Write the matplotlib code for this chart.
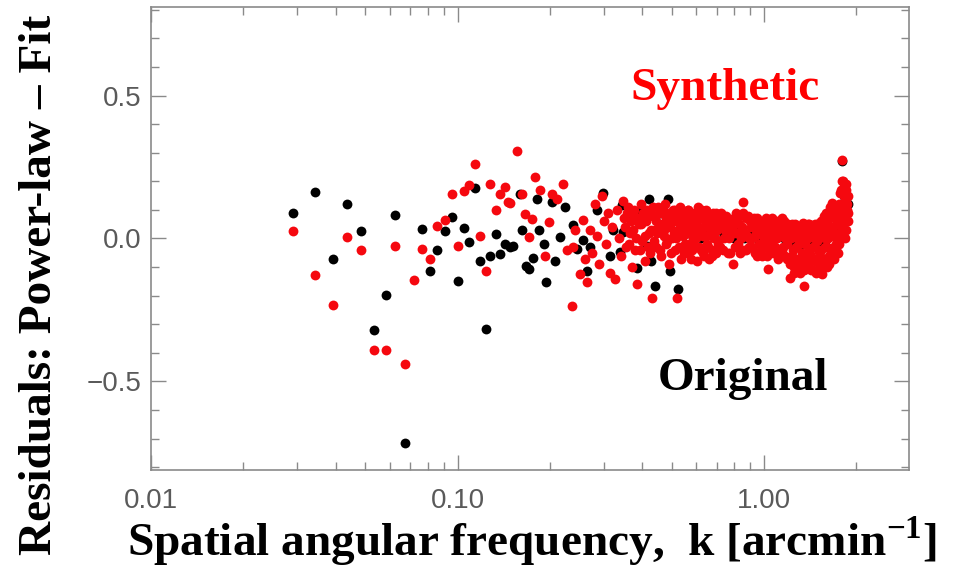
import matplotlib
matplotlib.use("Agg")
import matplotlib.pyplot as plt
from matplotlib.ticker import FixedLocator, LogLocator, NullFormatter, MultipleLocator

# ---- residuals of the power-law fit, sparse low-k part ----
k_orig_low = [0.0291, 0.0343, 0.0392, 0.0437, 0.0485, 0.0534, 0.0582, 0.0625, 0.0674,
              0.0766, 0.0813, 0.0858, 0.0911, 0.0957, 0.1002, 0.1052, 0.1093, 0.1143,
              0.1184, 0.1236, 0.1276, 0.1332, 0.1376, 0.1429, 0.1484, 0.1521, 0.1599,
              0.1620, 0.1673, 0.1715, 0.1759, 0.1813, 0.1849, 0.1915, 0.1944, 0.2029,
              0.2080, 0.2159, 0.2243, 0.2387, 0.2449, 0.2573, 0.2640, 0.2705, 0.2845,
              0.2983, 0.3146, 0.3216, 0.3389, 0.3440, 0.3470, 0.3683, 0.3852, 0.3911,
              0.4153, 0.4216, 0.4260, 0.4410, 0.4579, 0.4862, 0.4935, 0.5242]
r_orig_low = [0.090, 0.162, -0.073, 0.122, 0.026, -0.319, -0.196, 0.081, -0.717,
              0.033, -0.115, -0.042, 0.026, 0.075, -0.150, 0.035, -0.013, 0.178,
              -0.080, -0.316, -0.062, 0.014, -0.054, -0.018, -0.030, -0.025, 0.157,
              0.028, -0.095, -0.106, -0.068, 0.139, 0.030, -0.019, -0.153, 0.127,
              -0.077, 0.005, 0.110, 0.046, -0.036, -0.007, -0.112, -0.030, 0.098,
              0.158, -0.060, 0.028, -0.049, 0.116, 0.021, 0.063, -0.102, 0.091,
              -0.025, 0.137, -0.077, -0.165, 0.088, 0.137, -0.112, -0.175]

k_syn_low = [0.0291, 0.0343, 0.0392, 0.0437, 0.0485, 0.0534, 0.0582, 0.0625, 0.0674,
             0.0718, 0.0766, 0.0813, 0.0858, 0.0911, 0.0957, 0.1002, 0.1052, 0.1093,
             0.1143, 0.1184, 0.1236, 0.1276, 0.1332, 0.1376, 0.1429, 0.1465, 0.1484,
             0.1561, 0.1620, 0.1661, 0.1703, 0.1746, 0.1790, 0.1858, 0.1930, 0.1979,
             0.2029, 0.2107, 0.2214, 0.2272, 0.2359, 0.2387, 0.2418, 0.2510, 0.2573,
             0.2600, 0.2640]
r_syn_low = [0.026, -0.126, -0.231, 0.005, -0.042, -0.389, -0.389, -0.025, -0.440,
             -0.144, -0.036, -0.071, 0.042, 0.063, 0.157, -0.028, 0.166, 0.186,
             0.259, 0.008, -0.115, 0.189, 0.098, 0.157, 0.180, 0.127, 0.124,
             0.306, 0.157, 0.084, 0.005, 0.069, 0.215, 0.168, -0.060, 0.057,
             0.157, 0.139, 0.192, -0.042, -0.235, -0.030, 0.028, -0.124, 0.063,
             -0.071, -0.153]

# ---- dense high-k part (synthetic) ----
k_band_a = [0.270, 0.275, 0.280, 0.285, 0.290, 0.295, 0.300, 0.305, 0.310, 0.315,
            0.320, 0.325, 0.330, 0.335, 0.340, 0.345, 0.350, 0.355, 0.360, 0.365,
            0.370, 0.375, 0.380, 0.385, 0.390, 0.395, 0.400, 0.405, 0.410, 0.415,
            0.420, 0.425, 0.430, 0.435, 0.440, 0.445, 0.450, 0.455, 0.460, 0.465,
            0.470, 0.475, 0.480, 0.485, 0.490, 0.495, 0.500, 0.505, 0.510, 0.515,
            0.520, 0.525, 0.530, 0.535, 0.540, 0.545, 0.550, 0.555, 0.560, 0.565,
            0.570, 0.575, 0.580, 0.585, 0.590, 0.595, 0.600, 0.605, 0.610, 0.615,
            0.620, 0.625, 0.630, 0.635, 0.640, 0.645, 0.650, 0.655, 0.660, 0.665,
            0.670, 0.675, 0.680, 0.685, 0.690, 0.695, 0.700,
            0.71, 0.72, 0.73, 0.74, 0.75, 0.76, 0.77, 0.78, 0.79, 0.80,
            0.81, 0.82, 0.83, 0.84, 0.85, 0.86, 0.87, 0.88, 0.89, 0.90,
            0.91, 0.92, 0.93, 0.94, 0.95, 0.96, 0.97, 0.98, 0.99, 1.00,
            1.01, 1.02, 1.03, 1.04, 1.05, 1.06, 1.07, 1.08, 1.09, 1.10,
            1.11, 1.12, 1.13, 1.14, 1.15, 1.16, 1.17, 1.18, 1.19, 1.20,
            1.21, 1.22, 1.23, 1.24, 1.25, 1.26, 1.27, 1.28, 1.29, 1.30,
            1.31, 1.32, 1.33, 1.34, 1.35, 1.36, 1.37, 1.38, 1.39, 1.40,
            1.41, 1.42, 1.43, 1.44, 1.45, 1.46, 1.47, 1.48, 1.49, 1.50,
            1.51, 1.52, 1.53, 1.54, 1.55, 1.56, 1.57, 1.58, 1.59, 1.60,
            1.61, 1.62, 1.63, 1.64, 1.65, 1.66, 1.67, 1.68, 1.69, 1.70,
            1.71, 1.72, 1.73, 1.74, 1.75, 1.76, 1.77, 1.78, 1.79, 1.80,
            1.81, 1.82, 1.83, 1.84, 1.85, 1.86, 1.87, 1.88]
r_syn_band_a = [0.028, -0.050, 0.120, 0.010, -0.090, 0.150, 0.060, -0.020, 0.090, -0.120,
                0.040, -0.140, 0.100, 0.000, -0.060, 0.130, 0.070, -0.030, 0.110, 0.020,
                -0.100, 0.080, -0.040, -0.160, 0.050, 0.120, -0.010, 0.060, -0.080, 0.100,
                0.020, -0.050, -0.207, 0.080, 0.030, -0.030, 0.110, 0.040, -0.060, 0.090,
                0.010, 0.120, -0.020, 0.050, -0.090, 0.070, 0.000, 0.100, -0.040, 0.060,
                -0.207, 0.030, 0.110, -0.070, 0.040, 0.080, -0.020, 0.060, -0.050, 0.100,
                0.020, -0.070, 0.070, 0.000, 0.090, -0.030, 0.050, -0.080, 0.110, 0.030,
                -0.040, 0.080, 0.010, -0.060, 0.060, 0.100, -0.020, 0.040, -0.070, 0.080,
                0.020, -0.040, 0.090, 0.000, 0.060, -0.050, 0.030,
                0.070, -0.030, 0.050, 0.000, 0.080, -0.050, 0.030, 0.060, -0.090, 0.020,
                0.090, -0.020, 0.050, 0.000, 0.126, -0.040, 0.070, 0.010, -0.030, 0.060,
                0.000, 0.050, -0.050, 0.030, 0.070, -0.020, 0.040, -0.060, 0.010, 0.060,
                -0.030, 0.020, -0.105, 0.050, -0.010, 0.070, -0.050, 0.030, 0.000, 0.060,
                -0.070, 0.020, 0.050, -0.040, 0.010, 0.060, -0.060, 0.030, -0.020, 0.050,
                -0.137, 0.040, -0.060, 0.020, -0.100, 0.050, -0.030, 0.000, -0.080, 0.040,
                -0.120, 0.010, -0.050, 0.055, -0.165, -0.020, 0.030, -0.090, 0.000, 0.050,
                -0.060, -0.110, 0.020, -0.030, 0.040, -0.080, 0.010, -0.120, 0.050, -0.040,
                0.000, -0.100, 0.060, -0.123, 0.020, -0.080, 0.080, -0.030, 0.040, -0.100,
                0.090, 0.000, -0.060, 0.110, 0.030, -0.040, 0.123, 0.010, -0.070, 0.070,
                0.100, -0.020, 0.050, -0.050, 0.120, 0.020, 0.160, 0.080, 0.200, 0.273,
                0.050, 0.180, 0.130, 0.000, 0.190, 0.100, 0.150, 0.060]

k_band_b = [0.705, 0.715, 0.725, 0.735, 0.745, 0.755, 0.765, 0.775, 0.785, 0.795,
            0.805, 0.815, 0.825, 0.835, 0.845, 0.855, 0.865, 0.875, 0.885, 0.895,
            0.905, 0.915, 0.925, 0.935, 0.945, 0.955, 0.965, 0.975, 0.985, 0.995,
            1.005, 1.015, 1.025, 1.035, 1.045, 1.055, 1.065, 1.075, 1.085, 1.095,
            1.105, 1.115, 1.125, 1.135, 1.145, 1.155, 1.165, 1.175, 1.185, 1.195,
            1.205, 1.215, 1.225, 1.235, 1.245, 1.255, 1.265, 1.275, 1.285, 1.295,
            1.305, 1.315, 1.325, 1.335, 1.345, 1.355, 1.365, 1.375, 1.385, 1.395,
            1.405, 1.415, 1.425, 1.435, 1.445, 1.455, 1.465, 1.475, 1.485, 1.495,
            1.505, 1.515, 1.525, 1.535, 1.545, 1.555, 1.565, 1.575, 1.585, 1.595,
            1.605, 1.615, 1.625, 1.635, 1.645, 1.655, 1.665, 1.675, 1.685, 1.695,
            1.705, 1.715, 1.725, 1.735, 1.745, 1.755, 1.765, 1.775, 1.785, 1.795,
            1.805, 1.815, 1.825, 1.835, 1.845, 1.855, 1.865, 1.875]
r_syn_band_b = [-0.020, 0.040, 0.090, -0.040, 0.030, 0.060, 0.000, -0.050, 0.040, 0.070,
                -0.030, 0.020, 0.080, -0.050, 0.040, 0.090, 0.020, -0.040, 0.080, 0.000,
                0.040, -0.030, 0.070, 0.010, -0.060, 0.020, 0.060, -0.040, 0.050, -0.010,
                0.030, 0.070, -0.060, 0.000, 0.040, -0.040, 0.020, 0.060, -0.030, 0.040,
                0.000, 0.060, -0.050, 0.030, 0.070, -0.030, 0.000, 0.050, -0.070, 0.020,
                0.030, -0.090, 0.000, 0.050, -0.040, -0.120, 0.010, -0.070, 0.040, -0.020,
                -0.100, 0.030, -0.070, -0.010, -0.110, 0.040, -0.060, 0.010, 0.050, -0.040,
                -0.100, 0.020, -0.060, 0.040, -0.110, 0.000, 0.050, -0.070, -0.010, 0.030,
                -0.090, 0.040, -0.060, -0.040, 0.040, -0.100, 0.060, 0.000, -0.070, 0.090,
                -0.030, 0.050, -0.090, 0.080, 0.020, -0.050, 0.100, 0.040, -0.030, 0.110,
                0.020, -0.040, 0.090, 0.000, 0.060, -0.020, 0.100, 0.040, 0.170, 0.120,
                0.200, 0.090, 0.150, 0.060, 0.170, 0.030, 0.120, 0.090]

k_band_c = [0.3525, 0.3575, 0.3625, 0.3675, 0.3725, 0.3775, 0.3825, 0.3875, 0.3925, 0.3975,
            0.4025, 0.4075, 0.4125, 0.4175, 0.4225, 0.4275, 0.4325, 0.4375, 0.4425, 0.4475,
            0.4525, 0.4575, 0.4625, 0.4675, 0.4725, 0.4775, 0.4825, 0.4875, 0.4925, 0.4975,
            0.5025, 0.5075, 0.5125, 0.5175, 0.5225, 0.5275, 0.5325, 0.5375, 0.5425, 0.5475,
            0.5525, 0.5575, 0.5625, 0.5675, 0.5725, 0.5775, 0.5825, 0.5875, 0.5925, 0.5975,
            0.6025, 0.6075, 0.6125, 0.6175, 0.6225, 0.6275, 0.6325, 0.6375, 0.6425, 0.6475,
            0.6525, 0.6575, 0.6625, 0.6675, 0.6725, 0.6775, 0.6825, 0.6875, 0.6925, 0.6975]
r_syn_band_c = [0.040, 0.090, -0.020, 0.060, 0.030, 0.100, 0.000, 0.070, -0.040, 0.050,
                0.090, 0.010, 0.060, -0.030, 0.080, 0.030, 0.110, -0.010, 0.060, 0.020,
                0.090, -0.040, 0.050, 0.100, 0.030, 0.070, -0.010, 0.090, 0.040, -0.050,
                0.060, 0.020, 0.100, 0.000, 0.070, -0.030, 0.050, 0.090, 0.010, -0.050,
                0.070, 0.030, 0.100, -0.020, 0.050, 0.080, -0.040, 0.030, 0.060, 0.000,
                0.090, 0.040, -0.030, 0.070, 0.020, 0.100, -0.050, 0.040, 0.070, 0.010,
                0.090, -0.030, 0.050, 0.020, 0.080, -0.060, 0.040, 0.060, 0.000, 0.090]

# ---- dense high-k part (original, mostly beneath the synthetic band) ----
k_orig_band = [0.56, 0.59, 0.62, 0.65, 0.68, 0.71, 0.74, 0.77, 0.80, 0.83,
               0.86, 0.89, 0.92, 0.95, 0.98, 1.01, 1.04, 1.07, 1.10, 1.13,
               1.16, 1.19, 1.22, 1.25, 1.28, 1.31, 1.34, 1.37, 1.40, 1.43,
               1.46, 1.49, 1.52, 1.55, 1.58, 1.61, 1.64, 1.67, 1.70, 1.73,
               1.76, 1.79, 1.80, 1.82, 1.85, 1.87]
r_orig_band = [0.020, 0.040, 0.000, 0.030, 0.010, 0.030, 0.010, 0.020, 0.000, 0.030,
               0.000, 0.010, 0.020, 0.000, -0.010, 0.010, 0.020, 0.000, 0.030, 0.010,
               0.000, 0.020, 0.010, -0.020, 0.000, -0.010, -0.020, 0.010, 0.000, -0.010,
               -0.020, -0.030, -0.020, 0.000, -0.010, 0.010, 0.020, 0.030, 0.040, 0.010,
               0.060, 0.120, 0.270, 0.150, 0.100, 0.120]

k_orig = k_orig_low + k_orig_band
r_orig = r_orig_low + r_orig_band
k_syn = k_syn_low + k_band_a + k_band_b + k_band_c
r_syn = r_syn_low + r_syn_band_a + r_syn_band_b + r_syn_band_c

x_ticks = [0.01, 0.1, 1.0]
x_tick_labels = ["0.01", "0.10", "1.00"]
y_ticks = [-0.5, 0.0, 0.5]
y_tick_labels = ["\u22120.5", "0.0", "0.5"]

fig = plt.figure(figsize=(9.59, 5.80), dpi=100)
ax = fig.add_axes([0.1575, 0.1897, 0.7905, 0.7982])

ax.scatter(k_orig, r_orig, s=50, color="black", linewidths=0, zorder=2)
ax.scatter(k_syn, r_syn, s=50, color="#f5080f", linewidths=0, zorder=3)

ax.set_xscale("log")
ax.set_xlim(0.01, 2.97)
ax.set_ylim(-0.81, 0.81)

grey = "#8a8a8a"
for sp in ax.spines.values():
    sp.set_color(grey)
    sp.set_linewidth(1.2)

ax.xaxis.set_major_locator(FixedLocator(x_ticks))
ax.set_xticklabels(x_tick_labels)
ax.xaxis.set_minor_locator(LogLocator(base=10, subs=range(2, 10)))
ax.xaxis.set_minor_formatter(NullFormatter())
ax.yaxis.set_major_locator(FixedLocator(y_ticks))
ax.set_yticklabels(y_tick_labels)
ax.yaxis.set_minor_locator(MultipleLocator(0.1))

ax.tick_params(which="both", direction="in", top=True, right=True, color=grey,
               width=1.0, labelcolor="#5a5a5a", labelsize=20)
ax.tick_params(which="major", length=11)
ax.tick_params(which="minor", length=6)
ax.tick_params(axis="x", pad=13)
ax.tick_params(axis="y", pad=7)
for lab in ax.get_xticklabels() + ax.get_yticklabels():
    lab.set_fontfamily("Liberation Sans")

plt.rcParams["mathtext.fontset"] = "custom"
plt.rcParams["mathtext.rm"] = "Liberation Serif"
plt.rcParams["mathtext.bf"] = "Liberation Serif:bold"

serif = dict(family="Liberation Serif", fontweight="bold")
fig.text(0.0417, 0.509, "Residuals: Power-law \u2013 Fit", rotation=90,
         ha="center", va="center", fontsize=34, **serif)
fig.text(0.555, 0.0414, r"Spatial angular frequency,  k [arcmin$^{\mathbf{-1}}$]",
         ha="center", va="baseline", fontsize=34, **serif)
fig.text(0.657, 0.8276, "Synthetic", color="#ff0000", ha="left", va="baseline",
         fontsize=34, **serif)
fig.text(0.686, 0.3276, "Original", color="black", ha="left", va="baseline",
         fontsize=34, **serif)

fig.savefig("out.png", dpi=100)
